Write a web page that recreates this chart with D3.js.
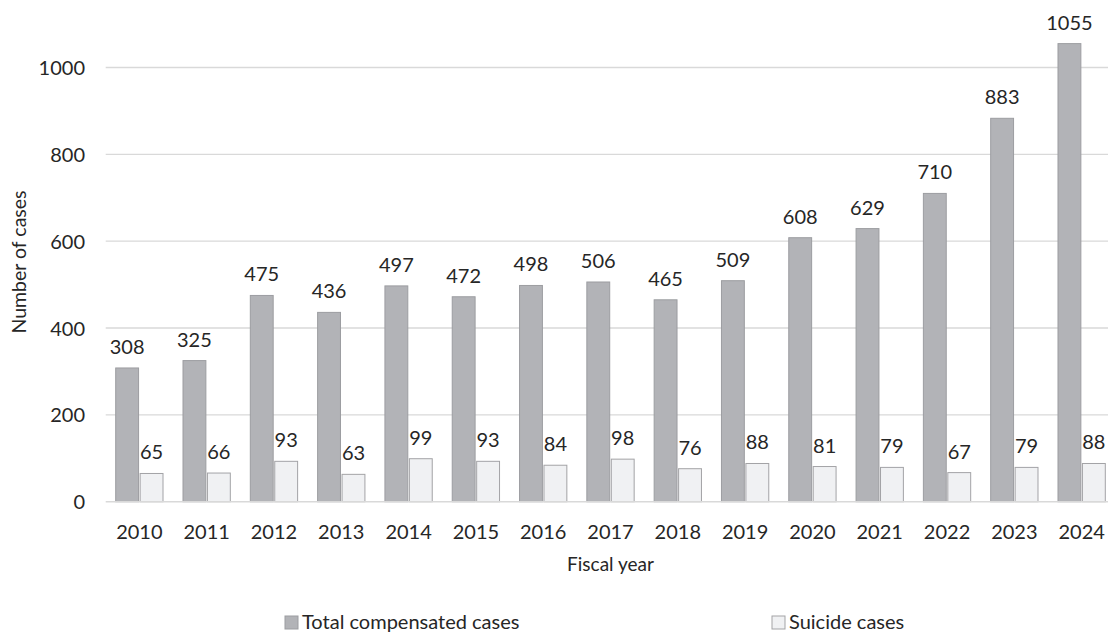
<!DOCTYPE html>
<html>
<head>
<meta charset="utf-8">
<script src="https://cdn.jsdelivr.net/npm/d3@7"></script>
<style>
  html, body { margin: 0; padding: 0; background: #fff; }
  svg { display: block; }
  text { font-family: Lato, "Open Sans", "Liberation Sans", sans-serif; fill: #262626; }
</style>
</head>
<body>
<svg id="chart" width="1108" height="635"></svg>
<script>
// Compensated cases by fiscal year
const years = ["2010","2011","2012","2013","2014","2015","2016","2017","2018","2019","2020","2021","2022","2023","2024"];
const totalCases = [308, 325, 475, 436, 497, 472, 498, 506, 465, 509, 608, 629, 710, 883, 1055];
const suicideCases = [65, 66, 93, 63, 99, 93, 84, 98, 76, 88, 81, 79, 67, 79, 88];
const yTicks = [0, 200, 400, 600, 800, 1000];
const seriesNames = ["Total compensated cases", "Suicide cases"];
const seriesKeys = ["total", "suicide"];

const fills = { total: "#b2b3b7", suicide: "#f0f1f3" };
const strokes = { total: "#9c9da1", suicide: "#a3a3a6" };

const W = 1108, H = 635;
const baseY = 501.7;
const pxPer1000 = 434.2;
const plotLeft = 105.7, plotRight = 1115.3;

const svg = d3.select("#chart");

const x = d3.scaleBand().domain(years).range([plotLeft, plotRight]).paddingInner(0).paddingOuter(0);
const xs = d3.scaleBand().domain(seriesKeys).range([10, x.bandwidth() - 10]).paddingInner(0.064);
const y = d3.scaleLinear().domain([0, 1000]).range([baseY, baseY - pxPer1000]);

const rows = years.map((yr, i) => ({ year: yr, total: totalCases[i], suicide: suicideCases[i] }));

// gridlines
svg.append("g").selectAll("line").data(yTicks.filter(d => d > 0)).join("line")
  .attr("x1", plotLeft).attr("x2", W)
  .attr("y1", d => y(d)).attr("y2", d => y(d))
  .attr("stroke", "#d9d9d9").attr("stroke-width", 1.3);

// y axis labels
const yAxis = d3.axisLeft(y).tickValues(yTicks).tickSize(0).tickPadding(0).tickFormat(d3.format("d"));
const gy = svg.append("g").attr("transform", "translate(85,0)").call(yAxis);
gy.select(".domain").remove();
gy.selectAll("text").attr("font-size", 20).attr("font-family", null).attr("fill", "#262626").attr("dy", "0.35em");

// bars
const groups = svg.append("g").selectAll("g").data(rows).join("g")
  .attr("transform", d => `translate(${x(d.year)},0)`);

groups.selectAll("rect").data(d => seriesKeys.map(k => ({ key: k, value: d[k] }))).join("rect")
  .attr("x", d => xs(d.key))
  .attr("width", xs.bandwidth())
  .attr("y", d => y(d.value))
  .attr("height", d => baseY - y(d.value))
  .attr("fill", d => fills[d.key])
  .attr("stroke", d => strokes[d.key])
  .attr("stroke-width", 1);

groups.selectAll("text.val").data(d => seriesKeys.map(k => ({ key: k, value: d[k] }))).join("text")
  .attr("class", "val")
  .attr("x", d => xs(d.key) + xs.bandwidth() / 2)
  .attr("y", d => y(d.value) - 14)
  .attr("text-anchor", "middle")
  .attr("font-size", 20)
  .text(d => d.value);

// x axis
svg.append("line")
  .attr("x1", plotLeft).attr("x2", W)
  .attr("y1", baseY).attr("y2", baseY)
  .attr("stroke", "#d9d9d9").attr("stroke-width", 1.5);

const xAxis = d3.axisBottom(x).tickSize(0).tickPadding(0);
const gx = svg.append("g").attr("transform", `translate(0,${baseY})`).call(xAxis);
gx.select(".domain").remove();
gx.selectAll("text").attr("font-size", 20).attr("font-family", null).attr("fill", "#262626")
  .attr("dy", null).attr("y", 37);

// axis titles
svg.append("text")
  .attr("x", (plotLeft + plotRight) / 2).attr("y", 571)
  .attr("text-anchor", "middle").attr("font-size", 19)
  .text("Fiscal year");

svg.append("text")
  .attr("transform", "translate(26,262) rotate(-90)")
  .attr("text-anchor", "middle").attr("font-size", 19.5)
  .text("Number of cases");

// legend
const legendX = [285, 772];
const legend = svg.append("g").selectAll("g").data(seriesKeys).join("g")
  .attr("transform", (d, i) => `translate(${legendX[i]},616)`);
legend.append("rect")
  .attr("width", 13).attr("height", 13)
  .attr("fill", d => fills[d]).attr("stroke", d => strokes[d]).attr("stroke-width", 1);
legend.append("text")
  .attr("x", 17).attr("y", 13)
  .attr("font-size", 20)
  .text((d, i) => seriesNames[i]);
</script>
</body>
</html>
